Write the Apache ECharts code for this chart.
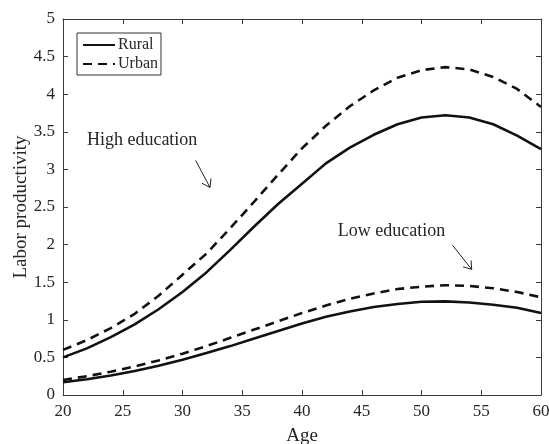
<!DOCTYPE html>
<html>
<head>
<meta charset="utf-8">
<script src="https://cdn.jsdelivr.net/npm/echarts@6/dist/echarts.min.js"></script>
<style>
  html, body { margin: 0; padding: 0; background: #fff; }
  #chart { width: 549px; height: 444px; }
</style>
</head>
<body>
<div id="chart"></div>
<script>
// Age grid (every two years)
const ages = [20, 22, 24, 26, 28, 30, 32, 34, 36, 38, 40, 42, 44, 46, 48, 50, 52, 54, 56, 58, 60];

// Labor productivity profiles
const highRural = [0.50, 0.62, 0.77, 0.94, 1.14, 1.37, 1.63, 1.93, 2.24, 2.54, 2.81, 3.08, 3.29, 3.46, 3.60, 3.69, 3.72, 3.69, 3.60, 3.45, 3.27];
const highUrban = [0.60, 0.73, 0.89, 1.08, 1.32, 1.60, 1.88, 2.22, 2.57, 2.93, 3.28, 3.58, 3.84, 4.05, 4.22, 4.32, 4.36, 4.33, 4.23, 4.07, 3.83];
const lowRural  = [0.17, 0.21, 0.26, 0.32, 0.39, 0.47, 0.56, 0.65, 0.75, 0.85, 0.95, 1.04, 1.11, 1.17, 1.21, 1.24, 1.245, 1.23, 1.20, 1.16, 1.09];
const lowUrban  = [0.20, 0.25, 0.31, 0.38, 0.46, 0.55, 0.65, 0.76, 0.87, 0.98, 1.09, 1.19, 1.28, 1.35, 1.41, 1.44, 1.46, 1.45, 1.42, 1.37, 1.30];

// Tick values
const xTicks = [20, 25, 30, 35, 40, 45, 50, 55, 60];
const yTicks = [0, 0.5, 1, 1.5, 2, 2.5, 3, 3.5, 4, 4.5, 5];

// Annotation anchors in data coordinates
const notes = [
  { text: 'High education', at: [22.0, 3.39], from: [31.1, 3.12], to: [32.3, 2.76] },
  { text: 'Low education',  at: [43.0, 2.18], from: [52.6, 1.99], to: [54.2, 1.67] }
];

const FONT = '"Liberation Serif", "DejaVu Serif", serif';
const INK = '#262626';

function pairs(ys) { return ages.map((a, i) => [a, ys[i]]); }

const chart = echarts.init(document.getElementById('chart'), null, { renderer: 'canvas' });

const axisCommon = {
  axisLine: { show: true, onZero: false, lineStyle: { color: '#3a3a3a', width: 1 } },
  axisTick: { show: true, inside: true, length: 5, lineStyle: { color: '#3a3a3a', width: 1 } },
  splitLine: { show: false }
};

const solid = { color: '#111', width: 2.6, type: 'solid' };
const dashed = { color: '#111', width: 2.6, type: [9, 6] };

chart.setOption({
  animation: false,
  backgroundColor: '#fff',
  grid: { left: 63, right: 8, top: 19, bottom: 49, containLabel: false, outerBoundsMode: 'none' },
  xAxis: [
    Object.assign({}, axisCommon, {
      type: 'value', min: xTicks[0], max: xTicks[xTicks.length - 1], interval: 5,
      position: 'bottom',
      name: 'Age', nameLocation: 'middle', nameGap: 32, nameMoveOverlap: false,
      nameTextStyle: { fontFamily: FONT, fontSize: 19, color: INK },
      axisLabel: { fontFamily: FONT, fontSize: 17, color: INK, margin: 8 }
    }),
    Object.assign({}, axisCommon, {
      type: 'value', min: xTicks[0], max: xTicks[xTicks.length - 1], interval: 5,
      position: 'top', axisLabel: { show: false }
    })
  ],
  yAxis: [
    Object.assign({}, axisCommon, {
      type: 'value', min: yTicks[0], max: yTicks[yTicks.length - 1], interval: 0.5,
      position: 'left',
      name: 'Labor productivity', nameLocation: 'middle', nameGap: 32, nameMoveOverlap: false,
      nameTextStyle: { fontFamily: FONT, fontSize: 19, color: INK },
      axisLabel: { fontFamily: FONT, fontSize: 17, color: INK, margin: 8 }
    }),
    Object.assign({}, axisCommon, {
      type: 'value', min: yTicks[0], max: yTicks[yTicks.length - 1], interval: 0.5,
      position: 'right', axisLabel: { show: false }
    })
  ],
  legend: {
    data: ['Rural', 'Urban'],
    orient: 'vertical',
    left: 77, top: 33,
    borderColor: '#333', borderWidth: 1,
    padding: [4, 3, 3, 5],
    itemGap: 3,
    itemWidth: 32, itemHeight: 14,
    selectedMode: false,
    itemStyle: { opacity: 0 },
    textStyle: { fontFamily: FONT, fontSize: 16, color: INK, padding: [0, 0, 0, -2] }
  },
  series: [
    { name: 'Rural', type: 'line', data: pairs(highRural), showSymbol: false, symbol: 'none', lineStyle: solid, itemStyle: { color: '#111' } },
    { name: 'Urban', type: 'line', data: pairs(highUrban), showSymbol: false, symbol: 'none', lineStyle: dashed, itemStyle: { color: '#111' } },
    { name: 'Rural', type: 'line', data: pairs(lowRural), showSymbol: false, symbol: 'none', lineStyle: solid, itemStyle: { color: '#111' } },
    { name: 'Urban', type: 'line', data: pairs(lowUrban), showSymbol: false, symbol: 'none', lineStyle: dashed, itemStyle: { color: '#111' } }
  ]
});

// Text labels and arrows placed through the grid's coordinate system
const graphics = [];
notes.forEach(n => {
  const t = chart.convertToPixel({ gridIndex: 0 }, n.at);
  const a = chart.convertToPixel({ gridIndex: 0 }, n.from);
  const b = chart.convertToPixel({ gridIndex: 0 }, n.to);
  graphics.push({
    type: 'text', x: t[0], y: t[1],
    style: { text: n.text, font: '18px ' + FONT, fill: INK, verticalAlign: 'middle' }
  });
  graphics.push({
    type: 'line', shape: { x1: a[0], y1: a[1], x2: b[0], y2: b[1] },
    style: { stroke: '#222', lineWidth: 1 }
  });
  const ang = Math.atan2(a[1] - b[1], a[0] - b[0]);
  const len = 9, spread = 0.6;
  [ang - spread, ang + spread].forEach(g => {
    graphics.push({
      type: 'line',
      shape: { x1: b[0], y1: b[1], x2: b[0] + len * Math.cos(g), y2: b[1] + len * Math.sin(g) },
      style: { stroke: '#222', lineWidth: 1 }
    });
  });
});
chart.setOption({ graphic: graphics });
</script>
</body>
</html>
